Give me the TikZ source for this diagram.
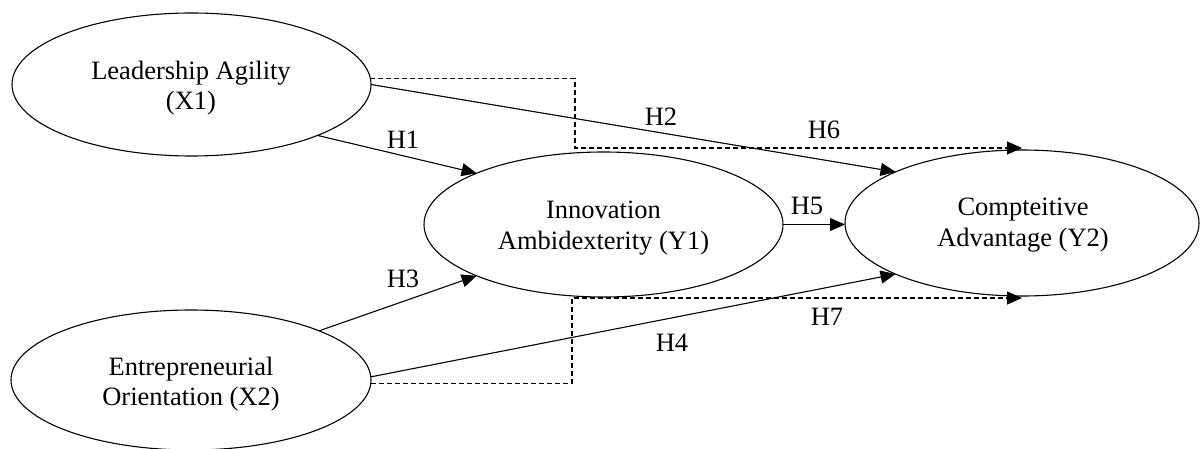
\documentclass[tikz,border=0pt]{standalone}
\usepackage{fontspec}
\setmainfont{Liberation Serif}
\usetikzlibrary{arrows.meta,shapes.geometric}
\begin{document}
\begin{tikzpicture}[x=0.5pt,y=-0.5pt,
  every node/.style={font=\fontsize{13.25pt}{15.25pt}\selectfont},
  construct/.style={draw, ellipse, line width=0.55pt, inner sep=0pt, outer sep=0pt},
  ctext/.style={align=center, inner sep=0pt},
  hyp/.style={inner sep=0pt},
  link/.style={line width=0.55pt, -{Triangle[length=7.5pt,width=6.5pt]}},
  medlink/.style={link, dash pattern=on 2.5pt off 1.5pt}]
\useasboundingbox (0,0) rectangle (1200,449);
% constructs
\node[construct, minimum width=179.5pt, minimum height=71.5pt] (X1) at (191.5,84.5) {};
\node[construct, minimum width=180pt, minimum height=70pt] (X2) at (191,380) {};
\node[construct, minimum width=179.5pt, minimum height=72.5pt] (Y1) at (603.5,224.5) {};
\node[construct, minimum width=177pt, minimum height=73pt] (Y2) at (1022,223) {};
% construct texts
\node[ctext] (tX1) at (191,88) {Leadership Agility\\(X1)};
\node[ctext] (tX2) at (191,384) {Entrepreneurial\\Orientation (X2)};
\node[ctext] (tY1) at (603.5,228) {Innovation\\Ambidexterity (Y1)};
\node[ctext] (tY2) at (1023,225) {Compteitive\\Advantage (Y2)};
% bend points of the mediation paths
\coordinate (b6) at (575,148);
\coordinate (b7) at (572,298);
% direct paths
\draw[link] (X1.-22) -- (Y1.158);
\draw[link] (X1.east) -- (Y2.158);
\draw[link] (X2.21) -- (Y1.202);
\draw[link] (X2.1) -- (Y2.202);
\draw[link] (Y1.east) -- (Y1.east -| Y2.west);
% mediation paths
\draw[medlink] (X1.2) -| (b6) -- (b6 -| Y2.north);
\draw[medlink] (X2.-1) -| (b7) -- (b7 -| Y2.south);
% hypothesis labels
\node[hyp] (H1) at (403,140) {H1};
\node[hyp] (H2) at (661,117) {H2};
\node[hyp] (H3) at (403,279) {H3};
\node[hyp] (H4) at (672,343) {H4};
\node[hyp] (H5) at (807,206) {H5};
\node[hyp] (H6) at (824,130) {H6};
\node[hyp] (H7) at (827,317) {H7};
\end{tikzpicture}
\end{document}
